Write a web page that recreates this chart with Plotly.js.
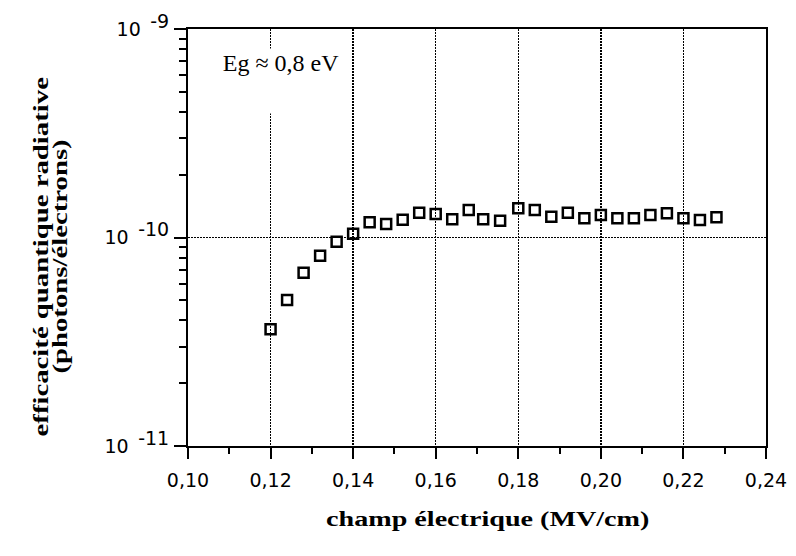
<!DOCTYPE html>
<html>
<head>
<meta charset="utf-8">
<script src="https://cdn.plot.ly/plotly-3.0.1.min.js"></script>
<style>
html,body{margin:0;padding:0;background:#fff;}
#chart{width:796px;height:556px;}
#chart g.annotation[data-index="1"] text.annotation-text {
  transform-box: fill-box; transform-origin: center; transform: scaleX(1.34);
}
#chart g.annotation[data-index="2"] text.annotation-text,
#chart g.annotation[data-index="3"] text.annotation-text {
  transform-box: fill-box; transform-origin: center; transform: scaleX(1.37);
}
</style>
</head>
<body>
<div id="chart"></div>
<script>
// Electric field (MV/cm)
const champ = [0.120, 0.124, 0.128, 0.132, 0.136, 0.140, 0.144, 0.148, 0.152, 0.156,
               0.160, 0.164, 0.168, 0.1715, 0.1756, 0.180, 0.184, 0.188, 0.192, 0.196,
               0.200, 0.204, 0.208, 0.212, 0.216, 0.220, 0.224, 0.228];
// Radiative quantum efficiency (photons/electrons)
const efficacite = [3.63e-11, 5.01e-11, 6.78e-11, 8.18e-11, 9.55e-11, 1.043e-10, 1.183e-10, 1.161e-10, 1.217e-10, 1.315e-10,
                    1.296e-10, 1.223e-10, 1.355e-10, 1.223e-10, 1.204e-10, 1.380e-10, 1.355e-10, 1.258e-10, 1.315e-10, 1.236e-10,
                    1.282e-10, 1.236e-10, 1.236e-10, 1.282e-10, 1.306e-10, 1.236e-10, 1.213e-10, 1.250e-10];
const xTickVals = [0.10, 0.12, 0.14, 0.16, 0.18, 0.20, 0.22, 0.24];
const xTickText = ['0,10', '0,12', '0,14', '0,16', '0,18', '0,20', '0,22', '0,24'];
const yTickVals = [1e-11, 1e-10, 1e-9];
const yExponents = ['-11', '-10', '-9'];
const yMinorVals = [2e-11, 3e-11, 4e-11, 5e-11, 6e-11, 7e-11, 8e-11, 9e-11,
                    2e-10, 3e-10, 4e-10, 5e-10, 6e-10, 7e-10, 8e-10, 9e-10];
const yTitleLines = ['efficacité quantique radiative', '(photons/électrons)'];
const xTitle = 'champ électrique (MV/cm)';
const noteText = 'Eg ≈ 0,8 eV';

const yTickText = yExponents.map(e => '10\u2002<span style="baseline-shift:8px">' + e + '</span>');

const tickFont = {family: 'DejaVu Sans, sans-serif', size: 19, color: '#000'};
const serif = 'Liberation Serif, Times New Roman, serif';
const gridDash = '1.5px,1.5px';

const trace = {
  x: champ, y: efficacite, type: 'scatter', mode: 'markers',
  marker: {symbol: 'square-open', size: 10, color: '#000', line: {width: 2.5, color: '#000'}},
  showlegend: false, cliponaxis: false
};
// invisible helper so the decade-tick overlay axis is drawn
const majorAxisHelper = {
  x: [champ[0]], y: [efficacite[0]], xaxis: 'x', yaxis: 'y2', type: 'scatter', mode: 'markers',
  marker: {opacity: 0, size: 1}, showlegend: false, hoverinfo: 'skip'
};

const layout = {
  width: 796, height: 556,
  margin: {l: 188, r: 30, t: 29, b: 110},
  paper_bgcolor: '#fff', plot_bgcolor: '#fff',
  separators: ',.',
  xaxis: {
    range: [0.10, 0.24], tickmode: 'array', tickvals: xTickVals, ticktext: xTickText,
    ticks: 'outside', ticklen: 11, tickwidth: 2, tickcolor: '#000',
    ticklabelstandoff: 5,
    showline: true, linecolor: '#000', linewidth: 2, mirror: true,
    showgrid: true, gridcolor: '#000', gridwidth: 1.5, griddash: gridDash,
    minor: {dtick: 0.01, ticks: 'outside', ticklen: 6, tickwidth: 2, tickcolor: '#000', showgrid: false},
    zeroline: false, tickfont: tickFont, fixedrange: true
  },
  // main y axis: every tick (decades + 2..9 subdivisions), short; labels only on decades
  yaxis: {
    type: 'log', range: [-11, -9], tickmode: 'array',
    tickvals: yTickVals.concat(yMinorVals),
    ticktext: yTickText.concat(yMinorVals.map(() => '')),
    ticks: 'outside', ticklen: 7, tickwidth: 2, tickcolor: '#000',
    ticklabelstandoff: 6,
    showline: true, linecolor: '#000', linewidth: 2, mirror: true,
    showgrid: false, zeroline: false, tickfont: tickFont, fixedrange: true
  },
  // overlay axis: long decade ticks and the dotted grid at decades
  yaxis2: {
    type: 'log', range: [-11, -9], overlaying: 'y', side: 'left', anchor: 'x',
    tickmode: 'array', tickvals: yTickVals, ticktext: yTickVals.map(() => ''),
    ticks: 'outside', ticklen: 13, tickwidth: 2, tickcolor: '#000',
    showgrid: true, gridcolor: '#000', gridwidth: 1.5, griddash: gridDash,
    showline: false, zeroline: false, fixedrange: true
  },
  annotations: [
    {text: noteText, xref: 'x', yref: 'paper', x: 0.1225, y: 1 - (48 - 29) / 417,
     xanchor: 'center', yanchor: 'top', showarrow: false, bgcolor: '#fff',
     width: 124, height: 62, valign: 'top', borderpad: 1,
     font: {family: serif, size: 24, color: '#000'}},
    {text: '<b>' + xTitle + '</b>', xref: 'paper', yref: 'paper',
     x: 0.519, y: (446 - 519) / 417, xanchor: 'center', yanchor: 'middle', showarrow: false,
     font: {family: serif, size: 21, color: '#000'}},
    {text: '<b>' + yTitleLines[0] + '</b>', xref: 'paper', yref: 'paper',
     x: 0, xshift: -147, y: 1 - (257 - 29) / 417, xanchor: 'center', yanchor: 'middle',
     textangle: -90, showarrow: false, font: {family: serif, size: 21, color: '#000'}},
    {text: '<b>' + yTitleLines[1] + '</b>', xref: 'paper', yref: 'paper',
     x: 0, xshift: -128, y: 1 - (257 - 29) / 417, xanchor: 'center', yanchor: 'middle',
     textangle: -90, showarrow: false, font: {family: serif, size: 21, color: '#000'}}
  ]
};

Plotly.newPlot('chart', [trace, majorAxisHelper], layout, {displayModeBar: false, staticPlot: true});
</script>
</body>
</html>
